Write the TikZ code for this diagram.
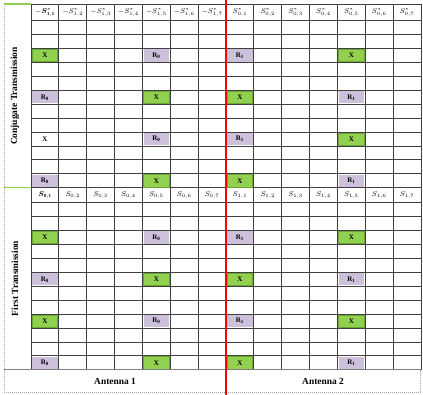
\documentclass[tikz,border=0pt]{standalone}
\usepackage{amsmath}
\usepackage{fontspec}
\setmainfont{Liberation Serif}
\usepackage{tikz}
\usetikzlibrary{positioning,calc}

\definecolor{cellgreen}{RGB}{146,208,80}
\definecolor{cellgreenline}{RGB}{104,168,52}
\definecolor{celllilac}{RGB}{204,192,218}
\definecolor{framegray}{RGB}{165,165,165}

\begin{document}
\begin{tikzpicture}[
  x=1pt, y=-1pt,
  gridline/.style={black!75, line width=0.8pt},
  cell/.style={minimum width=25.5pt, minimum height=12.4pt, inner sep=0pt, font=\fontsize{7}{8}\selectfont\bfseries},
  xbox/.style={cell, fill=cellgreen, draw=cellgreenline, line width=0.6pt},
  rbox/.style={cell, fill=celllilac},
  xplain/.style={cell},
  hdr/.style={inner sep=0pt, font=\fontsize{6.8}{8}\selectfont},
  side/.style={rotate=90, font=\fontsize{9.4}{11}\selectfont\bfseries},
  ant/.style={font=\fontsize{9.4}{11}\selectfont\bfseries}
]
\useasboundingbox (0,0) rectangle (423,395);

% table lines
\foreach \k in {0,...,14}
  \draw[gridline] ({31+\k*27.857},4) -- ({31+\k*27.857},369.78);
\foreach \yy in {4,20.7}
  \draw[gridline] (31,\yy) -- (421,\yy);
\foreach \k in {1,...,12}
  \draw[gridline] (31,{20.7+\k*13.92}) -- (421,{20.7+\k*13.92});
\foreach \k in {0,...,11}
  \draw[gridline] (31,{202.74+\k*13.92}) -- (421,{202.74+\k*13.92});

% header rows
\node[hdr] (tc1) at (44.93,12.35) {$-\boldsymbol{S}^{*}_{\mathbf{1,1}}$};
\node[hdr] (fc1) at (44.93,195.24) {$\boldsymbol{S}_{\mathbf{0,1}}$};
\foreach \k in {2,...,7} {
  \pgfmathsetmacro\xc{31+(\k-0.5)*27.857}
  \node[hdr] (tc\k) at (\xc,12.35) {$-S^{*}_{1,\k}$};
  \node[hdr] (fc\k) at (\xc,195.24) {$S_{0,\k}$};
}
\foreach \k in {1,...,7} {
  \pgfmathsetmacro\xc{226+(\k-0.5)*27.857}
  \node[hdr] (tr\k) at (\xc,12.35) {$S^{*}_{0,\k}$};
  \node[hdr] (fr\k) at (\xc,195.24) {$S_{1,\k}$};
}

% pilot and null cells
\foreach \s/\yy in {t/20.7,f/202.74}
  \foreach \k in {3,9} {
    \pgfmathsetmacro\yc{\yy+(\k-0.5)*13.92}
    \def\cellst{xbox}
    \ifnum\k=9 \if\s t\def\cellst{xplain}\fi\fi
    \node[\cellst] (\s\k a) at (44.93,\yc) {X};
    \node[rbox] (\s\k b) at (156.36,\yc) {R$_{\mathbf{0}}$};
    \node[rbox] (\s\k c) at (239.93,\yc) {R$_{\mathbf{1}}$};
    \node[xbox] (\s\k d) at (351.36,\yc) {X};
  }
\foreach \s/\yy in {t/20.7,f/202.74}
  \foreach \k in {6,12} {
    \pgfmathsetmacro\yc{\yy+(\k-0.5)*13.92}
    \node[rbox] (\s\k a) at (44.93,\yc) {R$_{\mathbf{0}}$};
    \node[xbox] (\s\k b) at (156.36,\yc) {X};
    \node[xbox] (\s\k c) at (239.93,\yc) {X};
    \node[rbox] (\s\k d) at (351.36,\yc) {R$_{\mathbf{1}}$};
  }

% frame
\draw[framegray, dashed, dash pattern=on 1.2pt off 0.8pt, line width=0.6pt]
  (4,4) -- (4,392) -- (420,392) -- (420,369.78);
\draw[cellgreen, line width=1.3pt] (4,4) -- (31,4);
\draw[cellgreen, line width=1.3pt] (4,187.74) -- (31,187.74);
\draw[gray, line width=1.4pt] (4,369.78) -- (421,369.78);

\node[side] (conj) at (15,96) {Conjugate Transmission};
\node[side] (first) at (15,278.5) {First Transmission};
\node[ant] (ant1) at (115,381) {Antenna 1};
\node[ant] (ant2) at (323,381) {Antenna 2};

\draw[red, line width=1.7pt] (226,0) -- (226,395);
\end{tikzpicture}
\end{document}
